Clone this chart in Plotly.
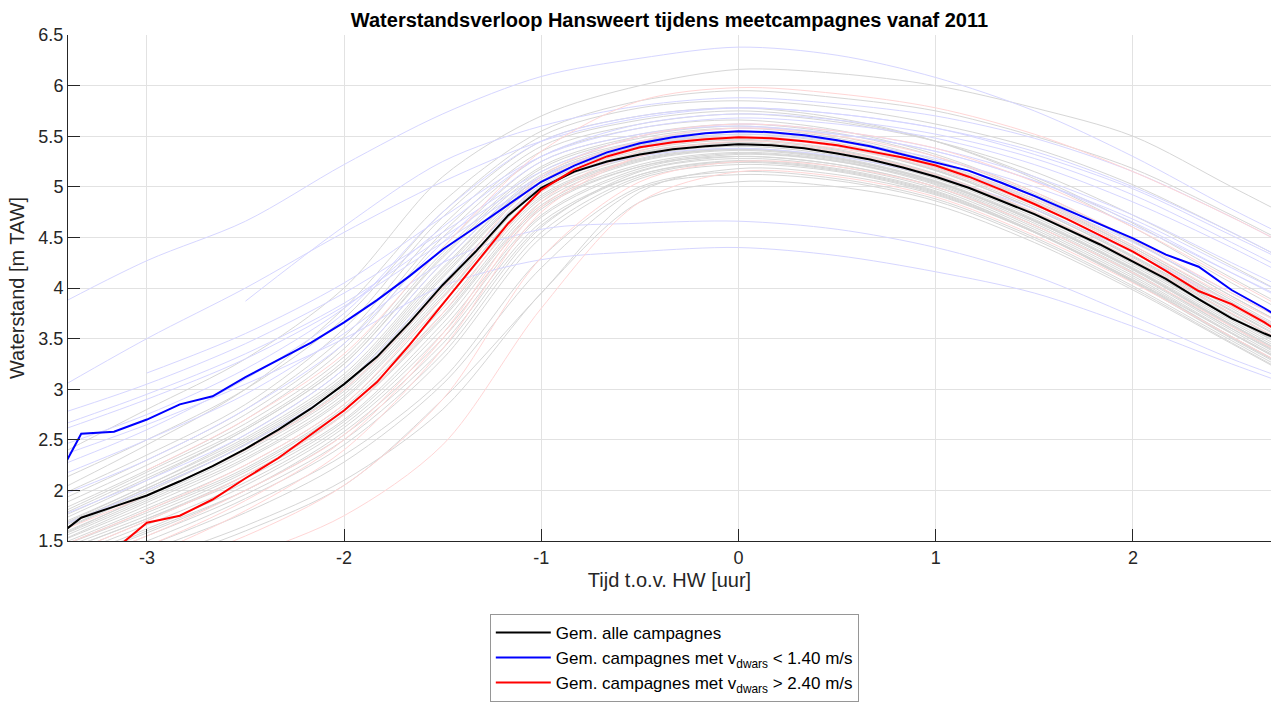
import plotly.graph_objects as go

# ---------------------------------------------------------------------------
# Time axis (hours relative to high water)
# ---------------------------------------------------------------------------
T_MEAN = [-3.5, -3.333, -3.167, -3.0, -2.833, -2.667, -2.5, -2.333, -2.167, -2.0,
          -1.833, -1.667, -1.5, -1.333, -1.167, -1.0, -0.833, -0.667, -0.5, -0.333,
          -0.167, 0.0, 0.167, 0.333, 0.5, 0.667, 0.833, 1.0, 1.167, 1.333,
          1.5, 1.667, 1.833, 2.0, 2.167, 2.333, 2.5, 2.667, 2.833]

T_CAMP = [-3.5, -3.0, -2.5, -2.0, -1.5, -1.0, -0.5, 0.0, 0.5, 1.0, 1.5, 2.0, 2.5, 3.0]

# ---------------------------------------------------------------------------
# Averaged water levels [m TAW]
# ---------------------------------------------------------------------------
MEAN_ALL = [1.48, 1.73, 1.84, 1.95, 2.09, 2.24, 2.41, 2.60, 2.81, 3.05,
            3.32, 3.66, 4.03, 4.36, 4.72, 4.99, 5.15, 5.25, 5.32, 5.37,
            5.40, 5.42, 5.41, 5.38, 5.33, 5.27, 5.19, 5.10, 4.99, 4.86,
            4.73, 4.58, 4.43, 4.26, 4.09, 3.89, 3.70, 3.55, 3.42]

MEAN_LOW_V = [1.95, 2.56, 2.58, 2.70, 2.85, 2.93, 3.12, 3.29, 3.46, 3.66,
              3.88, 4.12, 4.38, 4.60, 4.82, 5.05, 5.21, 5.34, 5.43, 5.49,
              5.53, 5.55, 5.54, 5.51, 5.46, 5.40, 5.32, 5.24, 5.16, 5.04,
              4.91, 4.77, 4.63, 4.49, 4.33, 4.21, 3.98, 3.80, 3.60]

MEAN_HIGH_V = [1.15, 1.28, 1.41, 1.68, 1.75, 1.91, 2.12, 2.32, 2.55, 2.79,
               3.07, 3.44, 3.84, 4.24, 4.64, 4.97, 5.17, 5.30, 5.39, 5.44,
               5.47, 5.49, 5.48, 5.45, 5.41, 5.35, 5.29, 5.21, 5.10, 4.97,
               4.83, 4.68, 4.52, 4.36, 4.17, 3.97, 3.84, 3.66, 3.45]

# ---------------------------------------------------------------------------
# Individual campaigns (values at T_CAMP), grouped by cross-current class
# ---------------------------------------------------------------------------
CAMP_OTHER = [
    [1.30, 1.70, 2.15, 2.75, 3.70, 4.80, 5.20, 5.30, 5.22, 5.00, 4.62, 4.15, 3.60, 3.10],
    [1.45, 1.85, 2.30, 2.90, 3.90, 4.95, 5.30, 5.40, 5.31, 5.08, 4.70, 4.22, 3.68, 3.15],
    [1.55, 2.00, 2.45, 3.05, 4.10, 5.05, 5.40, 5.50, 5.40, 5.16, 4.78, 4.30, 3.75, 3.22],
    [1.20, 1.60, 2.00, 2.55, 3.40, 4.60, 5.15, 5.28, 5.20, 4.98, 4.58, 4.10, 3.55, 3.02],
    [1.65, 2.10, 2.60, 3.25, 4.30, 5.15, 5.45, 5.55, 5.46, 5.22, 4.85, 4.38, 3.82, 3.30],
    [1.40, 1.78, 2.20, 2.80, 3.75, 4.85, 5.25, 5.36, 5.27, 5.05, 4.66, 4.18, 3.62, 3.08],
    [1.10, 1.45, 1.85, 2.35, 3.10, 4.30, 5.00, 5.15, 5.08, 4.88, 4.50, 4.02, 3.48, 2.95],
    [1.75, 2.20, 2.70, 3.40, 4.50, 5.30, 5.58, 5.66, 5.56, 5.32, 4.95, 4.47, 3.92, 3.40],
    [1.50, 1.95, 2.40, 3.00, 4.00, 5.00, 5.34, 5.44, 5.35, 5.12, 4.74, 4.27, 3.72, 3.20],
    [1.35, 1.72, 2.12, 2.68, 3.60, 4.72, 5.18, 5.32, 5.25, 5.04, 4.66, 4.18, 3.63, 3.10],
    [1.60, 2.05, 2.52, 3.15, 4.20, 5.10, 5.42, 5.52, 5.43, 5.19, 4.82, 4.35, 3.80, 3.28],
    [1.25, 1.62, 2.05, 2.62, 3.50, 4.65, 5.12, 5.25, 5.17, 4.95, 4.56, 4.08, 3.52, 3.00],
    [1.90, 2.35, 2.85, 3.60, 4.70, 5.45, 5.70, 5.78, 5.68, 5.45, 5.08, 4.60, 4.05, 3.52],
    [1.45, 1.88, 2.32, 2.92, 3.92, 4.92, 5.28, 5.38, 5.29, 5.06, 4.68, 4.20, 3.66, 3.13],
    [1.00, 1.30, 1.65, 2.10, 2.80, 3.95, 4.85, 5.05, 5.00, 4.82, 4.45, 3.98, 3.45, 2.92],
    [1.55, 1.98, 2.46, 3.08, 4.12, 5.06, 5.38, 5.47, 5.37, 5.13, 4.75, 4.28, 3.74, 3.22],
    [1.70, 2.15, 2.62, 3.28, 4.35, 5.20, 5.50, 5.60, 5.50, 5.26, 4.90, 4.42, 3.88, 3.35],
    [1.38, 1.75, 2.18, 2.76, 3.72, 4.82, 5.22, 5.34, 5.26, 5.03, 4.64, 4.16, 3.60, 3.07],
    [2.30, 2.80, 3.30, 4.00, 5.10, 5.70, 6.00, 6.16, 6.12, 6.00, 5.78, 5.50, 5.00, 4.50],
    [1.95, 2.45, 3.00, 3.80, 4.85, 5.55, 5.85, 5.95, 5.88, 5.75, 5.50, 5.18, 4.72, 4.22],
    [0.95, 1.25, 1.60, 2.05, 2.90, 3.95, 4.95, 5.18, 5.12, 4.92, 4.55, 4.08, 3.55, 3.02],
    [1.80, 2.25, 2.75, 3.45, 4.55, 5.35, 5.62, 5.72, 5.64, 5.45, 5.15, 4.72, 4.22, 3.70],
    [1.15, 1.50, 1.92, 2.45, 3.30, 4.50, 5.08, 5.22, 5.15, 4.93, 4.55, 4.06, 3.50, 2.98],
    [1.62, 2.05, 2.55, 3.20, 4.25, 5.12, 5.44, 5.54, 5.45, 5.22, 4.86, 4.40, 3.86, 3.34],
    [1.48, 1.90, 2.35, 2.95, 3.95, 4.98, 5.32, 5.42, 5.33, 5.10, 4.72, 4.24, 3.70, 3.18],
    [1.28, 1.66, 2.08, 2.65, 3.55, 4.70, 5.16, 5.30, 5.22, 5.00, 4.60, 4.12, 3.56, 3.04],
    [2.05, 2.50, 3.00, 3.70, 4.75, 5.50, 5.78, 5.85, 5.78, 5.62, 5.38, 5.02, 4.55, 4.05],
    [1.58, 2.02, 2.48, 3.10, 4.15, 5.08, 5.40, 5.49, 5.40, 5.16, 4.78, 4.31, 3.77, 3.25],
    [1.42, 1.82, 2.25, 2.85, 3.85, 4.90, 5.27, 5.37, 5.28, 5.05, 4.66, 4.19, 3.64, 3.11],
    [1.05, 1.40, 1.78, 2.28, 3.05, 4.20, 4.98, 5.12, 5.06, 4.86, 4.48, 4.00, 3.46, 2.93],
    [1.68, 2.12, 2.60, 3.25, 4.32, 5.18, 5.48, 5.58, 5.48, 5.24, 4.88, 4.40, 3.85, 3.32],
    [1.35, 1.72, 2.15, 2.70, 3.65, 4.78, 5.20, 5.33, 5.25, 5.02, 4.62, 4.14, 3.58, 3.05],
    [1.52, 1.94, 2.40, 3.02, 4.05, 5.02, 5.36, 5.46, 5.36, 5.12, 4.74, 4.26, 3.71, 3.19],
    [1.22, 1.58, 2.00, 2.58, 3.45, 4.62, 5.12, 5.26, 5.18, 4.96, 4.56, 4.07, 3.52, 3.00],
    [1.85, 2.30, 2.80, 3.52, 4.62, 5.40, 5.66, 5.75, 5.66, 5.45, 5.10, 4.64, 4.10, 3.58],
    [1.60, 2.02, 2.50, 3.12, 4.18, 5.10, 5.41, 5.50, 5.41, 5.17, 4.80, 4.32, 3.78, 3.26],
    [1.40, 1.80, 2.22, 2.82, 3.80, 4.88, 5.26, 5.37, 5.28, 5.05, 4.67, 4.19, 3.64, 3.12],
    [1.72, 2.18, 2.66, 3.32, 4.40, 5.25, 5.52, 5.62, 5.53, 5.30, 4.93, 4.46, 3.92, 3.40],
    [1.50, 1.92, 2.38, 2.98, 3.98, 4.98, 5.33, 5.43, 5.34, 5.11, 4.73, 4.25, 3.70, 3.18],
    [1.18, 1.55, 1.96, 2.50, 3.35, 4.55, 5.10, 5.24, 5.16, 4.94, 4.55, 4.06, 3.51, 2.99],
]

CAMP_LOW_V = [
    [3.78, 4.27, 4.66, 5.22, 5.72, 6.09, 6.27, 6.38, 6.30, 6.08, 5.75, 5.30, 4.78, 4.30],
    [None, None, 3.87, 4.61, 5.25, 5.60, 5.80, 5.88, 5.82, 5.70, 5.48, 5.15, 4.70, 4.20],
    [2.95, 3.50, 4.00, 4.55, 5.05, 5.45, 5.68, 5.78, 5.72, 5.58, 5.32, 4.98, 4.52, 4.05],
    [2.72, 3.05, 3.45, 3.95, 4.55, 5.15, 5.50, 5.62, 5.55, 5.38, 5.10, 4.72, 4.25, 3.78],
    [2.55, 2.90, 3.30, 3.82, 4.45, 5.05, 5.40, 5.52, 5.45, 5.28, 5.00, 4.62, 4.15, 3.68],
    [2.60, 2.95, 3.35, 3.85, 4.50, 5.10, 5.45, 5.58, 5.52, 5.35, 5.06, 4.68, 4.20, 3.72],
    [2.10, 2.50, 2.95, 3.55, 4.25, 4.58, 4.64, 4.66, 4.58, 4.40, 4.12, 3.72, 3.30, 2.95],
    [2.30, 2.65, 3.05, 3.50, 4.02, 4.28, 4.36, 4.40, 4.32, 4.16, 3.95, 3.62, 3.25, 2.90],
    [2.20, 2.60, 3.10, 3.75, 4.75, 5.45, 5.70, 5.78, 5.72, 5.58, 5.35, 5.00, 4.55, 4.05],
    [1.90, 2.30, 2.80, 3.45, 4.45, 5.25, 5.52, 5.60, 5.52, 5.35, 5.06, 4.65, 4.15, 3.65],
    [1.70, 2.10, 2.55, 3.20, 4.25, 5.10, 5.40, 5.48, 5.40, 5.20, 4.88, 4.45, 3.95, 3.45],
    [2.40, 2.75, 3.20, 3.80, 4.60, 5.30, 5.62, 5.72, 5.66, 5.52, 5.28, 4.92, 4.45, 3.95],
    [1.60, 2.00, 2.45, 3.05, 4.05, 5.00, 5.30, 5.38, 5.30, 5.10, 4.78, 4.35, 3.85, 3.35],
    [None, 3.16, 3.55, 4.05, 4.70, 5.30, 5.58, 5.68, 5.62, 5.48, 5.22, 4.85, 4.40, 3.90],
]

CAMP_HIGH_V = [
    [None, 2.20, 2.70, 3.35, 4.40, 5.35, 5.85, 5.98, 5.92, 5.78, 5.52, 5.15, 4.70, 4.20],
    [1.30, 1.70, 2.15, 2.75, 3.75, 4.95, 5.38, 5.50, 5.42, 5.22, 4.88, 4.42, 3.90, 3.40],
    [1.00, 1.35, 1.80, 2.40, 3.40, 4.75, 5.30, 5.45, 5.38, 5.18, 4.82, 4.35, 3.82, 3.30],
    [1.20, 1.55, 2.00, 2.55, 3.55, 4.85, 5.35, 5.48, 5.40, 5.20, 4.85, 4.38, 3.85, 3.35],
    [0.90, 1.20, 1.55, 2.05, 2.90, 4.30, 5.05, 5.25, 5.20, 5.00, 4.62, 4.15, 3.62, 3.10],
    [1.40, 1.80, 2.25, 2.85, 3.90, 5.05, 5.45, 5.58, 5.50, 5.30, 4.95, 4.48, 3.95, 3.45],
    [0.80, 1.05, 1.35, 1.75, 2.45, 3.80, 4.85, 5.15, 5.10, 4.90, 4.52, 4.05, 3.52, 3.00],
    [1.10, 1.45, 1.90, 2.50, 3.50, 4.80, 5.30, 5.42, 5.35, 5.12, 4.75, 4.28, 3.75, 3.22],
    [1.55, 1.95, 2.40, 3.00, 4.00, 5.10, 5.50, 5.62, 5.55, 5.38, 5.05, 4.60, 4.08, 3.55],
]

X_TICKS = [-3, -2, -1, 0, 1, 2]
Y_TICKS = [1.5, 2, 2.5, 3, 3.5, 4, 4.5, 5, 5.5, 6, 6.5]
Y_TICK_TEXT = ["1.5", "2", "2.5", "3", "3.5", "4", "4.5", "5", "5.5", "6", "6.5"]

FONT = "Arial, 'Liberation Sans', Helvetica, sans-serif"
TEXT_COLOR = "#262626"

fig = go.Figure()


def add_campaigns(rows, colour):
    for row in rows:
        fig.add_trace(go.Scatter(
            x=T_CAMP, y=row, mode="lines",
            line=dict(color=colour, width=1, shape="spline", smoothing=0.9),
            showlegend=False, hoverinfo="skip",
        ))


add_campaigns(CAMP_OTHER, "rgb(214,214,214)")
add_campaigns(CAMP_LOW_V, "rgb(214,214,255)")
add_campaigns(CAMP_HIGH_V, "rgb(255,214,214)")

fig.add_trace(go.Scatter(
    x=T_MEAN, y=MEAN_ALL, mode="lines", line=dict(color="black", width=2),
    name="Gem. alle campagnes",
))
fig.add_trace(go.Scatter(
    x=T_MEAN, y=MEAN_LOW_V, mode="lines", line=dict(color="rgb(0,0,255)", width=2),
    name="Gem. campagnes met v<sub>dwars</sub> &lt; 1.40 m/s",
))
fig.add_trace(go.Scatter(
    x=T_MEAN, y=MEAN_HIGH_V, mode="lines", line=dict(color="rgb(255,0,0)", width=2),
    name="Gem. campagnes met v<sub>dwars</sub> &gt; 2.40 m/s",
))

axis_common = dict(
    showgrid=True, gridcolor="rgb(226,226,226)", gridwidth=1,
    zeroline=False, showline=True, linecolor=TEXT_COLOR, linewidth=1,
    ticks="inside", ticklen=12, tickwidth=1, tickcolor=TEXT_COLOR,
    tickfont=dict(family=FONT, size=18, color=TEXT_COLOR),
    mirror=False,
)

fig.update_layout(
    width=1271, height=702,
    margin=dict(l=68, r=0, t=35, b=159),
    paper_bgcolor="white", plot_bgcolor="white",
    font=dict(family=FONT, color=TEXT_COLOR),
    title=dict(
        text="<b>Waterstandsverloop Hansweert tijdens meetcampagnes vanaf 2011</b>",
        font=dict(family=FONT, size=20, color="black"),
        x=0.5, xref="paper", xanchor="center",
        y=1 - 20 / 702, yref="container", yanchor="middle",
    ),
    xaxis=dict(
        range=[-3.4, 2.7], tickvals=X_TICKS, ticktext=[str(v) for v in X_TICKS],
        title=dict(text="Tijd t.o.v. HW [uur]", font=dict(family=FONT, size=20, color=TEXT_COLOR),
                   standoff=6),
        **axis_common,
    ),
    yaxis=dict(
        range=[1.5, 6.5], tickvals=Y_TICKS, ticktext=Y_TICK_TEXT,
        title=dict(text="Waterstand [m TAW]", font=dict(family=FONT, size=20, color=TEXT_COLOR),
                   standoff=8),
        **axis_common,
    ),
    legend=dict(
        x=0.504, xanchor="center", y=-0.144, yanchor="top",
        bgcolor="white", bordercolor="rgb(150,150,150)", borderwidth=1,
        font=dict(family=FONT, size=17, color="black"),
        tracegroupgap=0, itemwidth=55,
    ),
    showlegend=True,
)

fig.write_html("out.html")
